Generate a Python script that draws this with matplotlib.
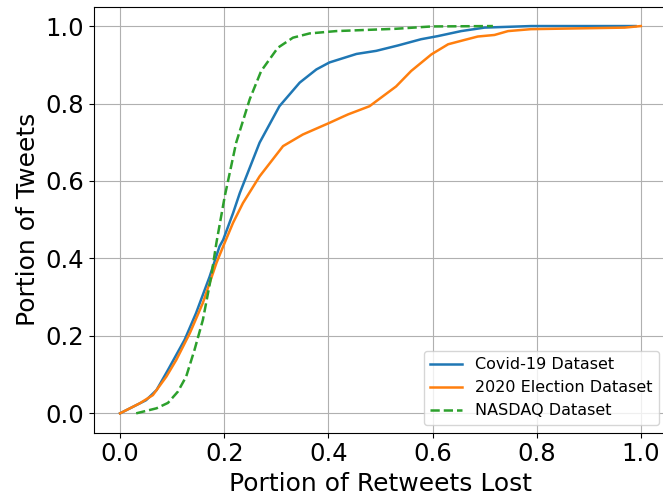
import matplotlib
matplotlib.use('Agg')
import matplotlib.pyplot as plt

# CDF points (x = portion of retweets lost, y = portion of tweets)
covid_x = [0.0, 0.05, 0.07, 0.092, 0.124, 0.146, 0.172, 0.191, 0.198, 0.217, 0.23,
           0.268, 0.306, 0.345, 0.377, 0.402, 0.454, 0.492, 0.534, 0.578, 0.61,
           0.655, 0.70, 0.789, 0.99]
covid_y = [0.0, 0.034, 0.06, 0.112, 0.19, 0.259, 0.353, 0.431, 0.448, 0.517, 0.569,
           0.699, 0.793, 0.854, 0.888, 0.906, 0.928, 0.936, 0.950, 0.966, 0.974,
           0.987, 0.996, 1.0, 1.0]

election_x = [0.0, 0.038, 0.063, 0.089, 0.108, 0.134, 0.159, 0.185, 0.198, 0.217,
              0.236, 0.268, 0.313, 0.351, 0.402, 0.428, 0.438, 0.479, 0.53, 0.559,
              0.598, 0.63, 0.661, 0.687, 0.719, 0.745, 0.789, 0.969, 1.0]
election_y = [0.0, 0.026, 0.047, 0.095, 0.138, 0.207, 0.285, 0.388, 0.431, 0.492,
              0.543, 0.612, 0.690, 0.720, 0.750, 0.766, 0.772, 0.793, 0.844, 0.884,
              0.927, 0.953, 0.964, 0.973, 0.977, 0.987, 0.992, 0.996, 1.0]

nasdaq_x = [0.031, 0.07, 0.092, 0.111, 0.127, 0.143, 0.159, 0.175, 0.185, 0.201,
            0.223, 0.249, 0.271, 0.303, 0.332, 0.364, 0.415, 0.53, 0.598, 0.716]
nasdaq_y = [0.0, 0.013, 0.027, 0.056, 0.095, 0.164, 0.241, 0.353, 0.44, 0.56,
            0.699, 0.811, 0.884, 0.944, 0.970, 0.981, 0.987, 0.993, 0.999, 1.0]

fig = plt.figure(figsize=(6.63, 5.0), dpi=100)
ax = fig.add_axes([0.1418, 0.1346, 0.864, 0.852])

ax.plot(covid_x, covid_y, color='tab:blue', linewidth=1.8, label='Covid-19 Dataset')
ax.plot(election_x, election_y, color='tab:orange', linewidth=1.8, label='2020 Election Dataset')
ax.plot(nasdaq_x, nasdaq_y, color='tab:green', linewidth=1.8, linestyle='--', label='NASDAQ Dataset')

ax.set_xlim(-0.05, 1.05)
ax.set_ylim(-0.05, 1.05)
ax.set_xticks([0.0, 0.2, 0.4, 0.6, 0.8, 1.0])
ax.set_yticks([0.0, 0.2, 0.4, 0.6, 0.8, 1.0])
ax.tick_params(labelsize=17.5)
ax.set_xlabel('Portion of Retweets Lost', fontsize=18)
ax.set_ylabel('Portion of Tweets', fontsize=18)
ax.grid(True)
ax.legend(loc='lower right', fontsize=11.5)

fig.savefig('out.png', dpi=100)
